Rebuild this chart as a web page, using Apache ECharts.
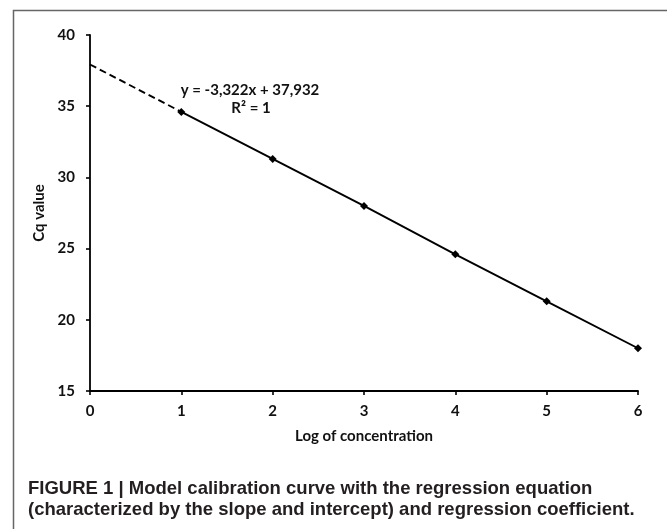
<!DOCTYPE html>
<html>
<head>
<meta charset="utf-8">
<script src="https://cdn.jsdelivr.net/npm/echarts@6/dist/echarts.min.js"></script>
<style>
html,body{margin:0;padding:0;background:#fff;}
#c{width:667px;height:529px;}
</style>
</head>
<body>
<div id="c"></div>
<script>
// Data
var logConc = [1, 2, 3, 4, 5, 6];
var cqValues = [34.6, 31.3, 28.0, 24.6, 21.3, 18.0];
var extrapX = [0, 1];
var extrapY = [37.93, 34.6];
var xTicks = ['0', '1', '2', '3', '4', '5', '6'];
var yTicks = ['15', '20', '25', '30', '35', '40'];
var equationText = 'y = -3,322x + 37,932';
var r2Text = 'R\u00B2 = 1';
var xName = 'Log of concentration';
var yName = 'Cq value';
var caption1 = 'FIGURE 1 | Model calibration curve with the regression equation';
var caption2 = '(characterized by the slope and intercept) and regression coefficient.';

var chartFont = 'Lato, "Open Sans", sans-serif';
var chart = echarts.init(document.getElementById('c'), null, {renderer: 'canvas'});

var mainPairs = logConc.map(function (x, i) { return [x, cqValues[i]]; });
var extrapPairs = extrapX.map(function (x, i) { return [x, extrapY[i]]; });

chart.setOption({
  backgroundColor: '#fff',
  animation: false,
  grid: {left: 90, right: 29, top: 35, bottom: 138},
  xAxis: {
    type: 'value', min: 0, max: 6, interval: 1,
    name: xName, nameLocation: 'middle', nameGap: 38,
    nameTextStyle: {fontFamily: chartFont, fontWeight: 'bold', fontSize: 15, color: '#111'},
    axisLine: {show: true, onZero: false, lineStyle: {color: '#000', width: 1.8}},
    axisTick: {show: true, length: 4, inside: false, lineStyle: {color: '#000', width: 1.6}},
    axisLabel: {margin: 13, fontFamily: chartFont, fontWeight: 'bold', fontSize: 15, color: '#111',
      formatter: function (v) { return xTicks[Math.round(v)]; }},
    splitLine: {show: false}
  },
  yAxis: {
    type: 'value', min: 15, max: 40, interval: 5,
    name: yName, nameLocation: 'middle', nameGap: 37, nameRotate: 90,
    nameTextStyle: {fontFamily: chartFont, fontWeight: 'bold', fontSize: 15, color: '#111'},
    axisLine: {show: true, onZero: false, lineStyle: {color: '#000', width: 1.8}},
    axisTick: {show: true, length: 4, inside: false, lineStyle: {color: '#000', width: 1.6}},
    axisLabel: {margin: 15, fontFamily: chartFont, fontWeight: 'bold', fontSize: 15, color: '#111',
      formatter: function (v) { return yTicks[Math.round((v - 15) / 5)]; }},
    splitLine: {show: false}
  },
  series: [
    {
      type: 'line', data: extrapPairs, symbol: 'none',
      lineStyle: {color: '#000', width: 1.9, type: [7, 4]}, z: 2
    },
    {
      type: 'line', data: mainPairs, symbol: 'diamond', symbolSize: 8,
      itemStyle: {color: '#000'},
      lineStyle: {color: '#000', width: 1.9}, z: 3
    }
  ],
  graphic: [
    {type: 'polyline', shape: {points: [[13.5, 600], [13.5, 10.5], [700, 10.5]]},
     style: {stroke: '#666', lineWidth: 1.5, fill: null}, silent: true},
    {type: 'text', x: 250, y: 90, style: {text: equationText, font: 'bold 15px ' + chartFont,
      fill: '#111', align: 'center', verticalAlign: 'middle'}},
    {type: 'text', x: 251, y: 108, style: {text: r2Text, font: 'bold 15px ' + chartFont,
      fill: '#111', align: 'center', verticalAlign: 'middle'}},
    {type: 'text', x: 28, y: 489, style: {text: caption1, font: 'bold 18.5px "Liberation Sans", Arial, sans-serif',
      fill: '#231f20', align: 'left', verticalAlign: 'middle'}},
    {type: 'text', x: 28, y: 510, style: {text: caption2, font: 'bold 18.5px "Liberation Sans", Arial, sans-serif',
      fill: '#231f20', align: 'left', verticalAlign: 'middle'}}
  ]
});
</script>
</body>
</html>
